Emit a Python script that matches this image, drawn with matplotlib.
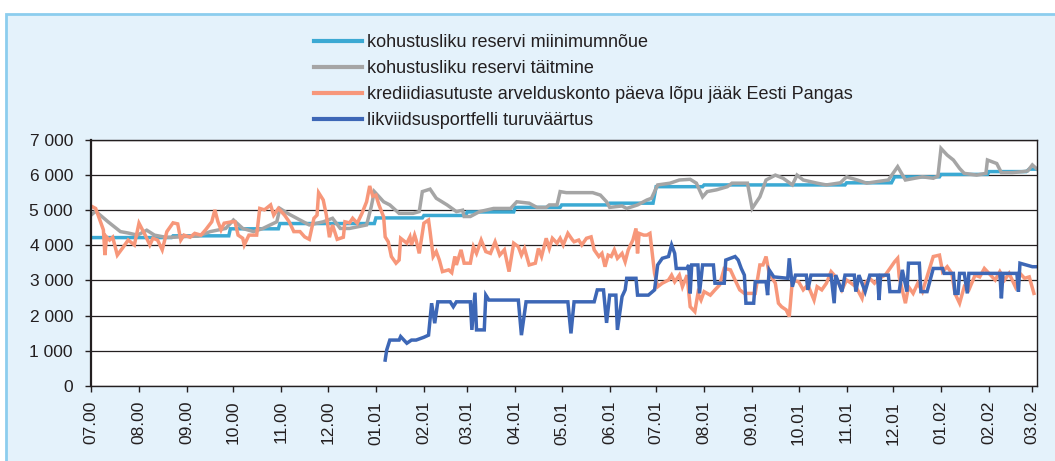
import matplotlib
matplotlib.use("Agg")
import matplotlib.pyplot as plt
import matplotlib.dates as mdates
from matplotlib.ticker import FuncFormatter, MultipleLocator
from matplotlib.patches import Rectangle
import pandas as pd

plt.rcParams['font.family'] = ['Liberation Sans', 'DejaVu Sans']

# day 0 = 1 July 2000
start = pd.Timestamp("2000-07-01")

labels = [
    "kohustusliku reservi miinimumnõue",
    "kohustusliku reservi täitmine",
    "krediidiasutuste arvelduskonto päeva lõpu jääk Eesti Pangas",
    "likviidsusportfelli turuväärtus",
]
colors = ["#3ba9d3", "#a5a5a5", "#f7977a", "#3d67b6"]

# reserve requirement (steps)
min_day = [0, 52, 53, 89, 90, 121, 122, 183, 184, 214,
           215, 242, 243, 273, 274, 303, 304, 334, 335, 363,
           365, 395, 396, 487, 488, 517, 519, 548, 549, 579,
           580, 604, 606, 611]
min_val = [4220, 4220, 4270, 4270, 4470, 4470, 4620, 4620, 4780, 4780,
           4850, 4850, 4950, 4950, 5080, 5080, 5150, 5150, 5200, 5200,
           5670, 5670, 5720, 5720, 5780, 5780, 5950, 5950, 6020, 6020,
           6100, 6100, 6170, 6170]

# reserve fulfilment
res_day = [0, 3, 11, 19, 24, 30, 36, 41, 48, 54,
           61, 69, 77, 87, 92, 98, 105, 111, 120, 122,
           127, 135, 141, 150, 156, 161, 167, 178, 181, 183,
           189, 193, 199, 208, 212, 214, 219, 223, 230, 236,
           240, 241, 245, 251, 260, 271, 275, 283, 288, 294,
           296, 301, 303, 307, 324, 329, 333, 335, 343, 346,
           353, 359, 362, 366, 374, 380, 387, 391, 395, 398,
           404, 411, 414, 424, 427, 432, 436, 442, 447, 453,
           456, 460, 469, 475, 484, 488, 495, 501, 507, 515,
           518, 521, 526, 532, 537, 544, 547, 549, 553, 557,
           561, 564, 572, 578, 579, 585, 588, 595, 602, 605,
           608, 611]
res_val = [4860, 4970, 4670, 4390, 4350, 4290, 4430, 4290, 4230, 4230,
           4250, 4260, 4390, 4480, 4720, 4480, 4390, 4480, 4670, 5050,
           4910, 4720, 4580, 4670, 4770, 4480, 4480, 4580, 5100, 5530,
           5240, 5150, 4910, 4910, 4960, 5530, 5600, 5340, 5150, 4960,
           5000, 4820, 4820, 4960, 5050, 5050, 5240, 5200, 5080, 5080,
           5150, 5150, 5530, 5500, 5500, 5430, 5240, 5080, 5120, 5050,
           5150, 5290, 5340, 5720, 5770, 5860, 5880, 5770, 5380, 5530,
           5580, 5670, 5770, 5770, 5050, 5380, 5860, 6000, 5910, 5720,
           6000, 5860, 5770, 5720, 5780, 5950, 5860, 5770, 5810, 5860,
           6050, 6240, 5860, 5910, 5950, 5910, 5970, 6760, 6570, 6430,
           6190, 6050, 6000, 6050, 6430, 6330, 6070, 6070, 6100, 6120,
           6290, 6170]

# settlement account end of day balance
acc_day = [0, 3, 5, 8, 9, 10, 12, 14, 17, 21,
           24, 28, 31, 35, 38, 40, 43, 46, 49, 53,
           56, 58, 60, 64, 67, 71, 74, 78, 80, 82,
           84, 86, 91, 93, 95, 98, 99, 102, 107, 109,
           112, 116, 118, 121, 125, 128, 131, 135, 138, 141,
           144, 146, 147, 150, 152, 154, 156, 159, 163, 164,
           167, 169, 172, 175, 178, 180, 182, 184, 186, 189,
           190, 192, 194, 197, 199, 200, 204, 206, 207, 209,
           210, 212, 215, 218, 219, 221, 223, 225, 227, 231,
           233, 235, 236, 239, 241, 245, 247, 249, 252, 255,
           258, 261, 264, 267, 270, 273, 276, 278, 280, 283,
           287, 289, 291, 294, 296, 298, 301, 303, 305, 308,
           311, 312, 315, 317, 320, 323, 325, 328, 330, 332,
           334, 336, 338, 340, 343, 345, 347, 350, 352, 353,
           354, 357, 359, 361, 364, 366, 369, 373, 375, 377,
           380, 382, 385, 387, 390, 392, 394, 396, 400, 403,
           406, 409, 413, 416, 419, 422, 425, 429, 432, 434,
           436, 438, 442, 444, 446, 449, 451, 453, 457, 460,
           463, 467, 469, 472, 475, 478, 481, 485, 488, 491,
           494, 498, 500, 503, 506, 509, 513, 516, 519, 521,
           522, 526, 528, 531, 534, 537, 541, 544, 548, 550,
           553, 556, 558, 561, 564, 567, 571, 574, 577, 580,
           584, 587, 590, 593, 597, 600, 603, 606, 609]
acc_val = [5120, 5050, 4810, 4440, 3720, 4240, 4150, 4230, 3720, 3960,
           4150, 4010, 4630, 4290, 4010, 4200, 4150, 3870, 4390, 4640,
           4610, 4150, 4290, 4230, 4340, 4290, 4440, 4670, 5010, 4670,
           4440, 4630, 4670, 4670, 4290, 4200, 4010, 4290, 4290, 5050,
           5010, 5150, 4860, 5050, 4860, 4670, 4390, 4390, 4240, 4170,
           4770, 4860, 5500, 5290, 4860, 4230, 4580, 4170, 4230, 4670,
           4640, 4770, 4630, 4910, 5240, 5690, 5400, 5430, 5150, 4810,
           4240, 4100, 3680, 3490, 3580, 4200, 4060, 4240, 4010, 4290,
           4150, 3770, 4630, 4720, 4390, 3680, 3820, 3580, 3250, 3300,
           3220, 3680, 3440, 3870, 3490, 3490, 3960, 3770, 4150, 3820,
           3770, 4100, 3720, 3870, 3250, 4060, 3960, 3720, 3910, 3440,
           3490, 3910, 3680, 4200, 3910, 4200, 4060, 4200, 4010, 4340,
           4150, 4100, 4150, 4010, 4200, 4240, 3870, 3680, 3770, 3390,
           3720, 3680, 3870, 3630, 3770, 3530, 3870, 4150, 4480, 3770,
           4340, 4290, 4290, 4340, 3200, 2820, 2920, 3010, 3150, 2960,
           3150, 2820, 3150, 2250, 2110, 2630, 2440, 2680, 2580, 2730,
           2870, 3340, 3300, 3010, 2730, 2630, 2630, 2630, 3440, 3440,
           3680, 3200, 2920, 2350, 2250, 2160, 1970, 3010, 2960, 2730,
           2870, 2440, 2820, 2730, 2920, 3250, 3100, 2730, 3010, 2920,
           2820, 2490, 2920, 3060, 2920, 3060, 3150, 3340, 3530, 3630,
           3100, 2350, 2820, 2630, 2920, 2680, 3250, 3680, 3720, 3250,
           3390, 3200, 2630, 2350, 2820, 2730, 3150, 3100, 3340, 3200,
           3010, 3250, 3010, 3200, 2820, 3200, 3060, 3100, 2630]

# liquidity portfolio market value
liq_day = [190, 191, 193, 199, 200, 204, 207, 210, 215, 218,
           220, 222, 224, 232, 234, 236, 245, 246, 248, 249,
           254, 255, 257, 276, 278, 281, 308, 310, 312, 325,
           327, 331, 333, 335, 339, 340, 343, 345, 346, 352,
           353, 360, 364, 366, 369, 373, 375, 377, 378, 385,
           386, 387, 388, 392, 393, 395, 402, 403, 409, 410,
           416, 418, 420, 422, 423, 428, 429, 436, 437, 438,
           441, 450, 451, 453, 455, 462, 463, 465, 478, 480,
           481, 485, 487, 493, 494, 496, 500, 503, 508, 509,
           510, 515, 516, 522, 524, 527, 528, 535, 536, 540,
           544, 550, 551, 557, 558, 560, 561, 564, 566, 567,
           587, 588, 589, 598, 599, 600, 608, 611]
liq_val = [730, 1020, 1300, 1300, 1400, 1210, 1300, 1300, 1380, 1440,
           2350, 1780, 2390, 2390, 2250, 2390, 2390, 1590, 2650, 1590,
           1590, 2580, 2440, 2440, 1440, 2390, 2390, 1490, 2390, 2390,
           2730, 2730, 1790, 2580, 2580, 1590, 2540, 2730, 3060, 3060,
           2580, 2580, 2730, 3440, 3630, 3680, 4010, 3770, 3340, 3340,
           3440, 2630, 3440, 3440, 2630, 3440, 3440, 2920, 2920, 3580,
           3680, 3580, 3340, 3150, 2350, 2350, 2960, 2960, 2580, 3300,
           3100, 3060, 3630, 2820, 3150, 3150, 2730, 3150, 3150, 2350,
           3150, 2680, 3150, 3150, 2680, 3150, 2680, 3150, 3150, 2440,
           3150, 3150, 2680, 2680, 3300, 2680, 3490, 3490, 2680, 2680,
           3340, 3340, 3200, 3200, 2630, 2630, 3200, 3200, 2630, 3200,
           3200, 2490, 3200, 3200, 2680, 3490, 3390, 3390]


def to_dates(days):
    return start + pd.to_timedelta(days, unit="D")


fig = plt.figure(figsize=(10.55, 4.61), dpi=100)
fig.patch.set_facecolor("white")

# light blue panel with a border on the left and top
panel = Rectangle((6 / 1055, -0.1), 1.2, 1.1 - 14 / 461,
                  transform=fig.transFigure, facecolor="#e4f2fb",
                  edgecolor="#8ccdee", linewidth=2, zorder=-10)
fig.patches.append(panel)

ax = fig.add_axes([91 / 1055, 75.3 / 461, 946 / 1055, 245.7 / 461])
ax.set_zorder(1)
ax.set_facecolor("white")

series = [(min_day, min_val), (res_day, res_val),
          (acc_day, acc_val), (liq_day, liq_val)]
handles = []
for (d, v), col, lab in zip(series, colors, labels):
    h, = ax.plot(to_dates(d), v, color=col, linewidth=2.5, label=lab,
                 solid_joinstyle="miter")
    handles.append(h)

ax.set_xlim(start, start + pd.Timedelta(days=611))
ax.set_ylim(0, 7000)
ax.yaxis.set_major_locator(MultipleLocator(1000))
ax.yaxis.set_major_formatter(
    FuncFormatter(lambda v, p: f"{int(v):,}".replace(",", " ")))
ax.xaxis.set_major_locator(mdates.MonthLocator())
ax.xaxis.set_major_formatter(mdates.DateFormatter("%m.%y"))

ax.grid(axis="y", color="#231f20", linewidth=0.9)
ax.set_axisbelow(True)
for s in ax.spines.values():
    s.set_color("#231f20")
    s.set_linewidth(1.0)
ax.spines["left"].set_linewidth(1.6)

ax.tick_params(axis="y", labelsize=12.5, colors="#231f20", length=4,
               pad=9, width=1)
ax.tick_params(axis="x", labelsize=12.5, colors="#231f20", length=4,
               pad=7, width=1, labelrotation=90)

leg = fig.legend(handles, labels, loc="upper left",
                 bbox_to_anchor=(314 / 1055, 1 - 34 / 461), frameon=False,
                 fontsize=13, handlelength=2.65, handletextpad=0.28,
                 labelspacing=0.5, borderpad=0, borderaxespad=0,
                 labelcolor="#231f20")
for lh in leg.get_lines():
    lh.set_linewidth(3)

fig.savefig("out.png", dpi=100)
